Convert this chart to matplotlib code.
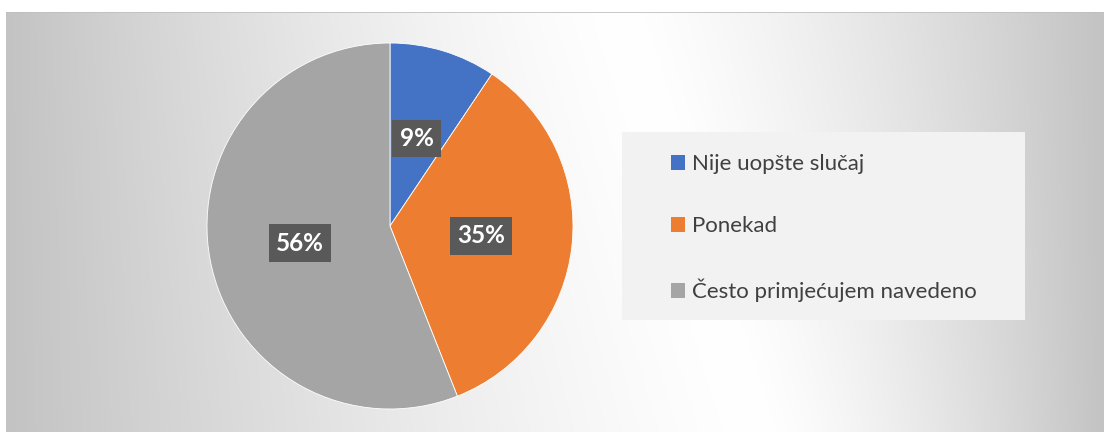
import numpy as np
import matplotlib.pyplot as plt
from matplotlib.patches import Patch, Rectangle

labels = ["Nije uopšte slučaj", "Ponekad", "Često primjećujem navedeno"]
values = [9.4, 34.6, 56.0]
colors = ["#4472C4", "#ED7D31", "#A5A5A5"]

plt.rcParams["font.family"] = ["Lato", "DejaVu Sans"]

W, H = 1104, 432
fig = plt.figure(figsize=(W / 100, H / 100), dpi=100)
fig.patch.set_facecolor("white")

# pozadina: bijeli kosi pojas, sivo prema rubovima
bg = fig.add_axes([6 / W, 0, (W - 6) / W, (H - 12) / H])
ys, xs = np.mgrid[12:H, 6:W].astype(float)
x0 = 620 + (ys - 12) * (140 / 420)
t = np.where(xs < x0, (x0 - xs) / (x0 - 6), (xs - x0) / (W - x0))
t = np.clip(t, 0, 1) ** 1.35
g = (255 - 60 * t) / 255
bg.imshow(np.dstack([g, g, g]), aspect="auto", extent=(0, 1, 0, 1))
bg.plot([0, 1], [1, 1], color="#bfbfbf", lw=1.2, transform=bg.transAxes)
bg.set_axis_off()

# pita
r, cx, cy = 183, 390, 226
ax = fig.add_axes([(cx - r) / W, (H - cy - r) / H, 2 * r / W, 2 * r / H])
wedges, _, autotexts = ax.pie(
	values,
	colors=colors,
	startangle=90,
	counterclock=False,
	autopct="%.0f%%",
	pctdistance=0.5,
	wedgeprops={"edgecolor": "white", "linewidth": 0.6},
	textprops={"color": "white", "fontsize": 17.5, "fontweight": "bold"},
)
for txt in autotexts:
	txt.set_bbox({"facecolor": "#595959", "edgecolor": "none", "boxstyle": "square,pad=0.3"})
ax.set_xlim(-1, 1)
ax.set_ylim(-1, 1)
ax.set_aspect("equal")
ax.set_axis_off()

# legenda
fig.patches.append(Rectangle((622 / W, 1 - 320 / H), 403 / W, 188 / H,
	transform=fig.transFigure, facecolor="#f2f2f2", edgecolor="none", zorder=1))
handles = [Patch(facecolor=c, edgecolor="none") for c in colors]
leg = fig.legend(
	handles, labels,
	loc="upper left",
	bbox_to_anchor=(671 / W, 1 - 154 / H),
	frameon=False,
	fontsize=16,
	handlelength=0.65,
	handleheight=0.65,
	handletextpad=0.3,
	labelspacing=1.9,
	borderpad=0,
	borderaxespad=0,
)
for txt in leg.get_texts():
	txt.set_color("#404040")

fig.savefig("out.png", dpi=100)
